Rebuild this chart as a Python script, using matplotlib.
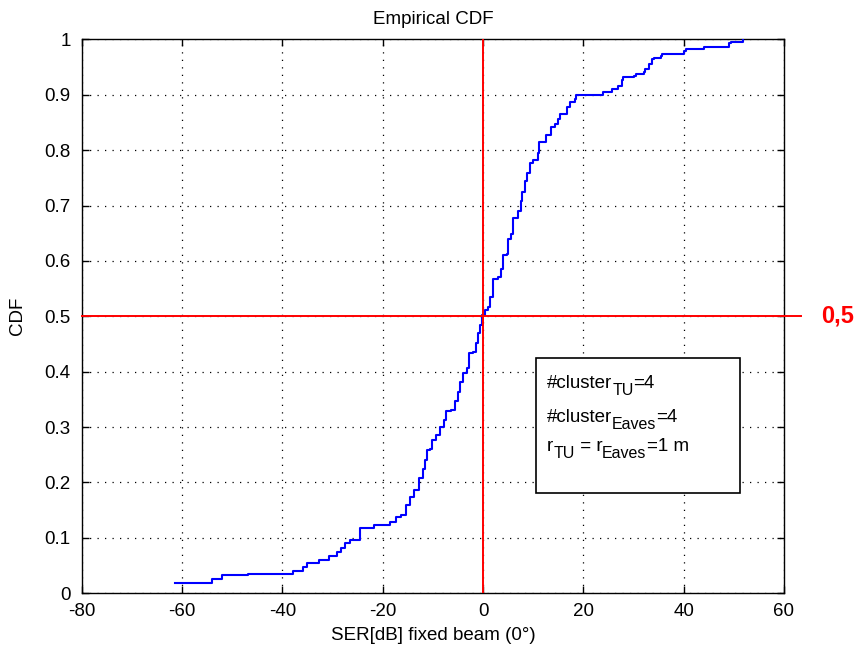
import matplotlib
matplotlib.use("Agg")
import matplotlib.pyplot as plt
from matplotlib.patches import Rectangle
from matplotlib.transforms import IdentityTransform

plt.rcParams['font.family'] = ['Liberation Sans', 'DejaVu Sans']
plt.rcParams['axes.unicode_minus'] = False

# step positions (SER in dB) and the CDF level reached at each step
ser_db = [-61.4, -54.0, -52.05, -46.8, -37.9, -35.85, -35.1, -32.7, -30.7, -29.2,
          -28.4, -27.6, -26.55, -24.5, -21.7, -18.6, -17.3, -16.3, -15.3, -14.55,
          -13.75, -12.75, -11.95, -11.6, -11.2, -10.6, -10.1, -9.3, -8.6, -7.8,
          -7.3, -6.3, -5.6, -5.0, -4.65, -4.05, -3.25, -2.75, -1.95, -1.35,
          -0.95, -0.65, -0.3, 0.4, 1.0, 1.4, 1.9, 3.0, 3.5, 4.0,
          4.7, 5.0, 5.5, 6.0, 7.0, 7.5, 7.8, 8.3, 8.7, 9.3,
          9.95, 10.95, 11.25, 12.55, 13.55, 14.3, 14.9, 15.3, 16.8, 17.3,
          18.3, 18.6, 24.0, 25.7, 27.0, 27.7, 28.0, 30.0, 30.4, 32.05,
          32.35, 33.05, 33.65, 34.05, 35.4, 35.7, 40.05, 40.45, 44.15, 49.1,
          49.5, 51.8]
cdf = [0.0186, 0.0265, 0.0325, 0.035, 0.040, 0.047, 0.055, 0.061, 0.067, 0.0745,
       0.082, 0.090, 0.097, 0.117, 0.123, 0.129, 0.137, 0.141, 0.159, 0.173,
       0.187, 0.208, 0.225, 0.240, 0.258, 0.261, 0.276, 0.285, 0.300, 0.312,
       0.329, 0.330, 0.348, 0.363, 0.381, 0.397, 0.406, 0.433, 0.436, 0.451,
       0.469, 0.484, 0.502, 0.511, 0.517, 0.535, 0.568, 0.571, 0.586, 0.610,
       0.613, 0.640, 0.649, 0.678, 0.690, 0.709, 0.724, 0.745, 0.758, 0.776,
       0.782, 0.794, 0.815, 0.827, 0.842, 0.848, 0.857, 0.866, 0.878, 0.887,
       0.893, 0.899, 0.905, 0.911, 0.915, 0.926, 0.932, 0.933, 0.938, 0.941,
       0.946, 0.955, 0.964, 0.967, 0.970, 0.974, 0.978, 0.982, 0.986, 0.993,
       0.996, 1.0]

x_ticks = [-80, -60, -40, -20, 0, 20, 40, 60]
y_ticks = [0, 0.1, 0.2, 0.3, 0.4, 0.5, 0.6, 0.7, 0.8, 0.9, 1]
y_ticklabels = ['0', '0.1', '0.2', '0.3', '0.4', '0.5', '0.6', '0.7', '0.8', '0.9', '1']
# each line of the box: list of (text, is_subscript)
box_lines = [[('#cluster', False), ('TU', True), ('=4', False)],
             [('#cluster', False), ('Eaves', True), ('=4', False)],
             [('r', False), ('TU', True), (' = r', False), ('Eaves', True), ('=1 m', False)]]

fig = plt.figure(figsize=(8.58, 6.55), dpi=100)
ax = fig.add_axes([81.7 / 858, 1 - 593.3 / 655, (784 - 81.7) / 858, (593.3 - 39.3) / 655])

ax.step(ser_db, cdf, where='post', color='#0000ff', lw=1.5, zorder=3)

# median markers
ax.axvline(0, color='#ff0000', lw=1.4, zorder=4)
ax.plot([-80, 63.3], [0.5, 0.5], color='#ff0000', lw=1.4, clip_on=False, zorder=4)
ax.text(1.0 + 37 / 703, 0.5, '0,5', color='#ff0000', fontsize=17, fontweight='bold',
        transform=ax.transAxes, va='center', ha='left')

ax.set_xlim(-80, 60)
ax.set_ylim(0, 1)
ax.set_xticks(x_ticks)
ax.set_yticks(y_ticks)
ax.set_yticklabels(y_ticklabels)
ax.tick_params(direction='in', length=5, width=1, top=True, right=True, labelsize=13.5)
ax.tick_params(axis='x', pad=7)
ax.tick_params(axis='y', pad=8)
ax.grid(True, color='black', linestyle=(0, (1, 5)), lw=0.9)
for sp in ax.spines.values():
    sp.set_linewidth(1.0)

ax.set_title('Empirical CDF', fontsize=13.5, pad=11)
ax.set_xlabel('SER[dB] fixed beam (0°)', fontsize=13.5, labelpad=5)
ax.set_ylabel('CDF', fontsize=13.5, labelpad=13)

# annotation box
ax.add_patch(Rectangle((10.6, 0.1816), 51.25 - 10.6, 0.424 - 0.1816, facecolor='white',
                       edgecolor='black', lw=1.2, zorder=5))

renderer = fig.canvas.get_renderer()
for parts, yb in zip(box_lines, [0.370, 0.310, 0.256]):
    px, py = ax.transData.transform((12.75, yb))
    for s, sub in parts:
        t = ax.text(px, py - (7 if sub else 0), s, fontsize=11.5 if sub else 13.5,
                    va='baseline', ha='left', transform=IdentityTransform(), zorder=6)
        px = t.get_window_extent(renderer).x1

fig.savefig('out.png', dpi=100)
